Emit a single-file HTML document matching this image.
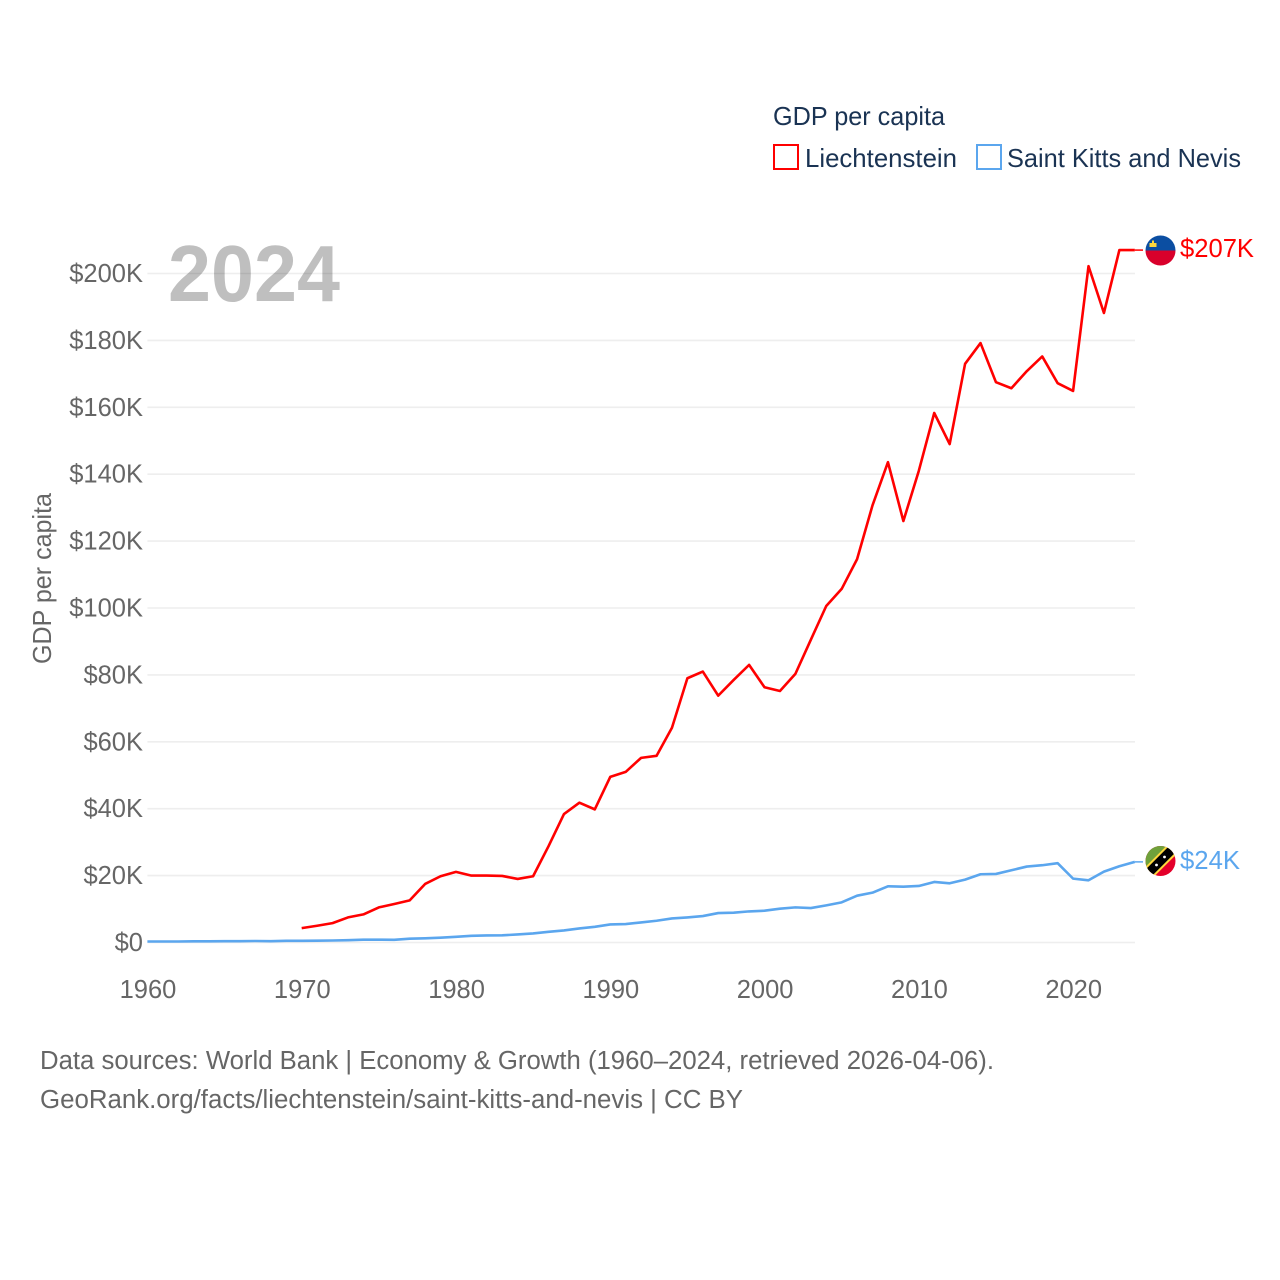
<!DOCTYPE html>
<html lang="en">
<head>
<meta charset="utf-8">
<title>GDP per capita: Liechtenstein and Saint Kitts and Nevis</title>
<style>
html,body{margin:0;padding:0;background:#fff;width:1280px;height:1280px;overflow:hidden}
svg{display:block}
text{font-family:"Liberation Sans",sans-serif}
</style>
</head>
<body>
<svg id="chart" xmlns="http://www.w3.org/2000/svg" width="1280" height="1280" viewBox="0 0 1280 1280">
  <rect width="1280" height="1280" fill="#fff"/>
  <g id="grid"></g>
  <g id="yticks"></g>
  <g id="xticks"></g>
  <text x="168" y="301" font-size="80" font-weight="700" fill="#000" fill-opacity="0.25" textLength="172" lengthAdjust="spacingAndGlyphs">2024</text>
  <text transform="translate(51,664) rotate(-90)" font-size="26" fill="#666" textLength="171" lengthAdjust="spacingAndGlyphs">GDP per capita</text>
  <g id="series"></g>

  <text x="773" y="125" font-size="26" fill="#1a3353" textLength="172" lengthAdjust="spacingAndGlyphs">GDP per capita</text>
  <rect x="774" y="145" width="24" height="24" fill="none" stroke="#ff0000" stroke-width="2"/>
  <text x="805" y="167" font-size="26" fill="#1a3353" textLength="152" lengthAdjust="spacingAndGlyphs">Liechtenstein</text>
  <rect x="977" y="145" width="24" height="24" fill="none" stroke="#5ba6ee" stroke-width="2"/>
  <text x="1007" y="167" font-size="26" fill="#1a3353" textLength="234" lengthAdjust="spacingAndGlyphs">Saint Kitts and Nevis</text>

  <defs>
    <clipPath id="clip-li"><circle cx="1160.5" cy="250.5" r="15"/></clipPath>
    <clipPath id="clip-kn"><circle cx="1160.5" cy="861" r="15"/></clipPath>
  </defs>
  <g clip-path="url(#clip-li)">
    <rect x="1145" y="235" width="31" height="15.5" fill="#0b4ea2"/>
    <rect x="1145" y="250.5" width="31" height="15.5" fill="#d9002b"/>
    <rect x="1149.5" y="243" width="7" height="4" fill="#ffd83d"/>
    <rect x="1152" y="240.5" width="2" height="3" fill="#ffd83d"/>
  </g>
  <g clip-path="url(#clip-kn)">
    <rect x="1145" y="845" width="31" height="31" fill="#e4002b"/>
    <polygon points="1145,845 1176,845 1145,876" fill="#6fa13b"/>
    <line x1="1143.5" y1="878" x2="1177.5" y2="844" stroke="#ffd83d" stroke-width="13"/>
    <line x1="1143.5" y1="878" x2="1177.5" y2="844" stroke="#000" stroke-width="9"/>
    <circle cx="1156.5" cy="865" r="1.4" fill="#fff"/>
    <circle cx="1164.5" cy="857" r="1.4" fill="#fff"/>
  </g>
  <text id="label-li" x="1180" y="257" font-size="26" fill="#ff0000" textLength="74" lengthAdjust="spacingAndGlyphs">$207K</text>
  <text id="label-kn" x="1180" y="869" font-size="26" fill="#5ba6ee" textLength="60" lengthAdjust="spacingAndGlyphs">$24K</text>

  <text x="40" y="1069" font-size="25.5" fill="#666" textLength="954" lengthAdjust="spacingAndGlyphs">Data sources: World Bank | Economy &amp; Growth (1960–2024, retrieved 2026-04-06).</text>
  <text x="40" y="1108" font-size="25.5" fill="#666" textLength="703" lengthAdjust="spacingAndGlyphs">GeoRank.org/facts/liechtenstein/saint-kitts-and-nevis | CC BY</text>
</svg>
<script>
const firstYear = 1960;
const lastYear = 2024;
const yTickValues = [0, 20, 40, 60, 80, 100, 120, 140, 160, 180, 200];
const yTickLabels = ["$0", "$20K", "$40K", "$60K", "$80K", "$100K", "$120K", "$140K", "$160K", "$180K", "$200K"];
const xTickValues = [1960, 1970, 1980, 1990, 2000, 2010, 2020];
const xTickLabels = ["1960", "1970", "1980", "1990", "2000", "2010", "2020"];
const liechtensteinStart = 1970;
const liechtensteinValues = [4.3, 5.0, 5.8, 7.5, 8.4, 10.5, 11.5, 12.6, 17.5, 19.8, 21.1, 20.0, 20.0, 19.9, 19.0, 19.8, 28.8, 38.4, 41.8, 39.8, 49.5, 51.0, 55.2, 55.8, 64.2, 79.0, 81.0, 73.8, 78.5, 83.0, 76.3, 75.2, 80.3, 90.5, 100.6, 105.7, 114.6, 130.7, 143.6, 126.0, 141.0, 158.3, 149.0, 173.0, 179.2, 167.5, 165.7, 170.8, 175.2, 167.2, 164.9, 202.2, 188.2, 207.0, 207.0];
const kittsStart = 1960;
const kittsValues = [0.3, 0.3, 0.3, 0.35, 0.35, 0.4, 0.4, 0.45, 0.4, 0.5, 0.5, 0.55, 0.6, 0.7, 0.85, 0.85, 0.8, 1.15, 1.25, 1.45, 1.7, 2.0, 2.1, 2.15, 2.4, 2.7, 3.2, 3.6, 4.2, 4.7, 5.4, 5.5, 6.0, 6.5, 7.2, 7.5, 7.9, 8.8, 8.9, 9.3, 9.5, 10.1, 10.5, 10.3, 11.1, 12.0, 14.0, 14.9, 16.8, 16.7, 16.9, 18.1, 17.7, 18.8, 20.4, 20.5, 21.6, 22.7, 23.1, 23.7, 19.1, 18.6, 21.2, 22.8, 24.1];

const SVG_NS = "http://www.w3.org/2000/svg";
const plotLeft = 147.4;
const plotRight = 1134.8;
const gridRight = 1135;
const yZero = 942.5;
const pxPerThousand = 3.345;

function xScale(year) {
  return plotLeft + (year - firstYear) * (plotRight - plotLeft) / (lastYear - firstYear);
}
function yScale(value) {
  return yZero - value * pxPerThousand;
}
function linePoints(startYear, values) {
  return values.map(function (v, i) {
    return xScale(startYear + i).toFixed(2) + "," + yScale(v).toFixed(2);
  }).join(" ");
}

const gridGroup = document.getElementById("grid");
const yTickGroup = document.getElementById("yticks");
const xTickGroup = document.getElementById("xticks");
const seriesGroup = document.getElementById("series");

yTickValues.forEach(function (v, i) {
  const line = document.createElementNS(SVG_NS, "line");
  
  
  line.setAttribute("x1", plotLeft);
  line.setAttribute("x2", gridRight);
  line.setAttribute("y1", yScale(v));
  line.setAttribute("y2", yScale(v));
  line.setAttribute("stroke", "#eeeeee");
  line.setAttribute("stroke-width", "1.6");
  gridGroup.appendChild(line);

  const label = document.createElementNS(SVG_NS, "text");
  
  
  label.setAttribute("x", 143);
  label.setAttribute("y", yScale(v) + 8.5);
  label.setAttribute("text-anchor", "end");
  label.setAttribute("font-size", "25.5");
  label.setAttribute("fill", "#666");
  label.textContent = yTickLabels[i];
  yTickGroup.appendChild(label);
});

xTickValues.forEach(function (year, i) {
  const label = document.createElementNS(SVG_NS, "text");
  
  
  label.setAttribute("x", xScale(year) + 0.6);
  label.setAttribute("y", 998);
  label.setAttribute("text-anchor", "middle");
  label.setAttribute("font-size", "25.5");
  label.setAttribute("fill", "#666");
  label.textContent = xTickLabels[i];
  xTickGroup.appendChild(label);
});

const kittsLine = document.createElementNS(SVG_NS, "polyline");


kittsLine.setAttribute("points", linePoints(kittsStart, kittsValues));
kittsLine.setAttribute("fill", "none");
kittsLine.setAttribute("stroke", "#5ba6ee");
kittsLine.setAttribute("stroke-width", "2.6");
kittsLine.setAttribute("stroke-linejoin", "round");
seriesGroup.appendChild(kittsLine);

const liLine = document.createElementNS(SVG_NS, "polyline");


liLine.setAttribute("points", linePoints(liechtensteinStart, liechtensteinValues));
liLine.setAttribute("fill", "none");
liLine.setAttribute("stroke", "#ff0000");
liLine.setAttribute("stroke-width", "2.6");
liLine.setAttribute("stroke-linejoin", "round");
seriesGroup.appendChild(liLine);

const liLast = liechtensteinValues[liechtensteinValues.length - 1];
const kittsLast = kittsValues[kittsValues.length - 1];

const liConnector = document.createElementNS(SVG_NS, "line");


liConnector.setAttribute("x1", plotRight);
liConnector.setAttribute("x2", 1143);
liConnector.setAttribute("y1", yScale(liLast));
liConnector.setAttribute("y2", yScale(liLast));
liConnector.setAttribute("stroke", "#ff0000");
liConnector.setAttribute("stroke-width", "1.5");
seriesGroup.appendChild(liConnector);

const kittsConnector = document.createElementNS(SVG_NS, "line");


kittsConnector.setAttribute("x1", plotRight);
kittsConnector.setAttribute("x2", 1143);
kittsConnector.setAttribute("y1", yScale(kittsLast));
kittsConnector.setAttribute("y2", yScale(kittsLast));
kittsConnector.setAttribute("stroke", "#5ba6ee");
kittsConnector.setAttribute("stroke-width", "1.5");
seriesGroup.appendChild(kittsConnector);
</script>
</body>
</html>
